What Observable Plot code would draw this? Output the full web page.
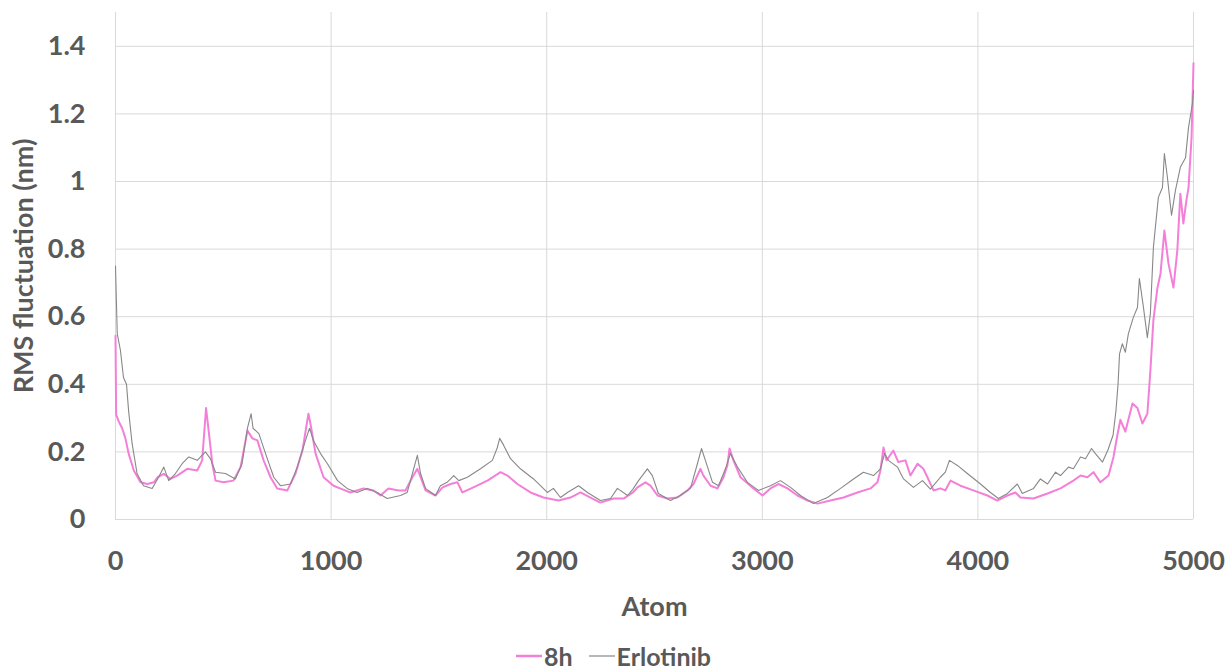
<!DOCTYPE html>
<html>
<head>
<meta charset="utf-8">
<script src="https://cdn.jsdelivr.net/npm/d3@7"></script>
<script src="https://cdn.jsdelivr.net/npm/@observablehq/plot@0.6"></script>
<style>
  html, body { margin: 0; padding: 0; background: #fff; }
  #wrap { position: relative; width: 1227px; height: 672px; }
  #legend { position: absolute; left: 0; top: 636px; width: 1227px; text-align: center;
    font-family: Lato, "Open Sans", sans-serif; font-weight: bold; font-size: 25px; color: #595959; line-height: 30px; height: 30px; }
  #legend span.item { display: inline-flex; align-items: center; margin: 0 8px; height: 30px; }
  #legend svg { margin-right: 2px; }
</style>
</head>
<body>
<div id="wrap">
  <div id="chart"></div>
  <div id="legend"></div>
</div>
<script>
// ---- data ----
const seriesNames = ["8h", "Erlotinib"];
const seriesColors = ["#f47fd8", "#888888"];
const xTicks = [0, 1000, 2000, 3000, 4000, 5000];
const yTicks = [0, 0.2, 0.4, 0.6, 0.8, 1, 1.2, 1.4];

const atom8h = [0,3,15,31,46,61,85,116,148,178,195,224,255,286,333,379,402,420,432,449,464,501,547,580,612,635,658,687,719,750,797,835,867,895,904,928,965,1011,1050,1090,1150,1197,1229,1266,1313,1345,1377,1400,1415,1438,1484,1517,1554,1586,1609,1660,1725,1786,1818,1864,1925,1985,2055,2110,2157,2203,2249,2310,2357,2400,2421,2458,2481,2514,2560,2606,2653,2681,2713,2727,2760,2792,2820,2838,2848,2866,2899,2959,3001,3038,3075,3117,3163,3210,3256,3316,3377,3441,3502,3534,3548,3562,3576,3608,3631,3664,3687,3720,3747,3766,3794,3826,3849,3873,3919,3979,4044,4090,4137,4174,4197,4258,4323,4383,4443,4476,4508,4536,4568,4606,4629,4647,4661,4684,4717,4740,4763,4786,4800,4814,4833,4847,4865,4884,4907,4925,4939,4953,4967,4977,4991,5000];
const rms8h = [0.544,0.31,0.29,0.27,0.24,0.195,0.145,0.11,0.105,0.11,0.125,0.135,0.12,0.13,0.15,0.145,0.175,0.33,0.263,0.165,0.115,0.11,0.115,0.155,0.263,0.24,0.234,0.175,0.125,0.092,0.086,0.136,0.204,0.313,0.284,0.195,0.125,0.1,0.09,0.08,0.092,0.086,0.071,0.092,0.086,0.086,0.125,0.15,0.125,0.086,0.071,0.095,0.105,0.11,0.08,0.095,0.115,0.14,0.13,0.105,0.08,0.065,0.056,0.065,0.08,0.065,0.05,0.062,0.062,0.08,0.095,0.11,0.1,0.071,0.062,0.065,0.086,0.105,0.15,0.13,0.1,0.092,0.125,0.16,0.21,0.175,0.125,0.092,0.071,0.092,0.105,0.092,0.071,0.056,0.047,0.056,0.065,0.08,0.092,0.11,0.145,0.213,0.175,0.204,0.17,0.175,0.13,0.165,0.15,0.125,0.086,0.092,0.086,0.115,0.1,0.086,0.071,0.056,0.071,0.08,0.065,0.062,0.077,0.092,0.115,0.13,0.125,0.14,0.11,0.13,0.185,0.25,0.295,0.26,0.343,0.33,0.284,0.313,0.44,0.59,0.686,0.728,0.855,0.757,0.686,0.796,0.964,0.876,0.944,0.982,1.13,1.35];

const atomErl = [0,8,23,37,51,61,77,100,130,170,200,224,247,278,309,340,379,417,440,464,510,556,587,612,629,638,665,696,734,765,812,843,881,900,918,951,983,1030,1074,1120,1167,1214,1260,1322,1353,1377,1400,1415,1438,1484,1507,1538,1569,1592,1632,1693,1748,1771,1782,1800,1832,1878,1939,2003,2031,2064,2096,2148,2189,2249,2296,2328,2375,2400,2426,2467,2490,2518,2574,2620,2667,2699,2718,2736,2769,2797,2829,2852,2885,2931,2982,3038,3084,3131,3177,3237,3302,3363,3423,3469,3516,3548,3567,3585,3627,3655,3701,3743,3780,3826,3849,3868,3905,3951,4012,4058,4095,4137,4183,4206,4258,4290,4323,4360,4383,4420,4443,4476,4499,4527,4545,4578,4604,4627,4640,4650,4657,4670,4684,4698,4721,4740,4749,4768,4786,4800,4814,4837,4856,4865,4879,4898,4916,4939,4963,4977,4995,5000];
const rmsErl = [0.75,0.55,0.5,0.42,0.4,0.32,0.225,0.136,0.1,0.092,0.125,0.155,0.115,0.136,0.165,0.185,0.175,0.2,0.18,0.14,0.136,0.12,0.165,0.27,0.313,0.27,0.254,0.195,0.125,0.1,0.105,0.155,0.234,0.27,0.234,0.195,0.165,0.115,0.092,0.08,0.092,0.08,0.062,0.071,0.08,0.136,0.19,0.136,0.092,0.071,0.1,0.11,0.13,0.115,0.125,0.15,0.175,0.213,0.24,0.22,0.18,0.15,0.12,0.08,0.092,0.065,0.08,0.1,0.08,0.056,0.062,0.092,0.071,0.09,0.115,0.15,0.13,0.077,0.056,0.071,0.092,0.165,0.21,0.175,0.11,0.1,0.15,0.195,0.155,0.11,0.086,0.1,0.115,0.095,0.071,0.047,0.065,0.092,0.12,0.14,0.13,0.15,0.195,0.175,0.155,0.12,0.095,0.115,0.09,0.125,0.14,0.175,0.16,0.136,0.105,0.08,0.062,0.077,0.105,0.077,0.092,0.12,0.105,0.14,0.13,0.155,0.15,0.185,0.18,0.21,0.195,0.17,0.207,0.25,0.32,0.4,0.49,0.52,0.495,0.55,0.598,0.627,0.713,0.627,0.538,0.61,0.805,0.953,0.982,1.083,1.012,0.9,0.973,1.042,1.07,1.16,1.23,1.27];

const d8h = atom8h.map((a, i) => ({atom: a, rms: rms8h[i]}));
const dErl = atomErl.map((a, i) => ({atom: a, rms: rmsErl[i]}));

const chart = Plot.plot({
  width: 1227,
  height: 630,
  marginLeft: 115,
  marginRight: 34,
  marginTop: 12,
  marginBottom: 111,
  style: {fontFamily: "Lato, 'Open Sans', sans-serif", fontSize: "27px", fontWeight: "bold", color: "#595959", background: "#fff"},
  x: {domain: [0, 5000]},
  y: {domain: [0, 1.5]},
  marks: [
    Plot.gridX(xTicks, {stroke: "#d9d9d9", strokeOpacity: 1}),
    Plot.gridY(yTicks.slice(1), {stroke: "#d9d9d9", strokeOpacity: 1}),
    Plot.ruleY([0], {stroke: "#d9d9d9", strokeWidth: 1.2}),
    Plot.axisX(xTicks, {tickSize: 0, tickPadding: 31, tickFormat: d => String(d), label: "Atom", labelAnchor: "center", labelArrow: "none", labelOffset: 96, fill: "#595959"}),
    Plot.axisY(yTicks, {tickSize: 0, tickPadding: 30, tickFormat: d => String(d), label: "RMS fluctuation (nm)", labelAnchor: "center", labelArrow: "none", labelOffset: 102, fill: "#595959"}),
    Plot.line(d8h, {x: "atom", y: "rms", stroke: seriesColors[0], strokeWidth: 2, curve: "linear"}),
    Plot.line(dErl, {x: "atom", y: "rms", stroke: seriesColors[1], strokeWidth: 1.1, curve: "linear"})
  ]
});
document.getElementById("chart").appendChild(chart);

const legend = document.getElementById("legend");
seriesNames.forEach((name, i) => {
  const item = document.createElement("span");
  item.className = "item";
  item.innerHTML = `<svg width="26" height="10"><line x1="0" x2="26" y1="5" y2="5" stroke="${seriesColors[i]}" stroke-width="${i === 0 ? 2.5 : 1.2}"/></svg>${name}`;
  legend.appendChild(item);
});
</script>
</body>
</html>
